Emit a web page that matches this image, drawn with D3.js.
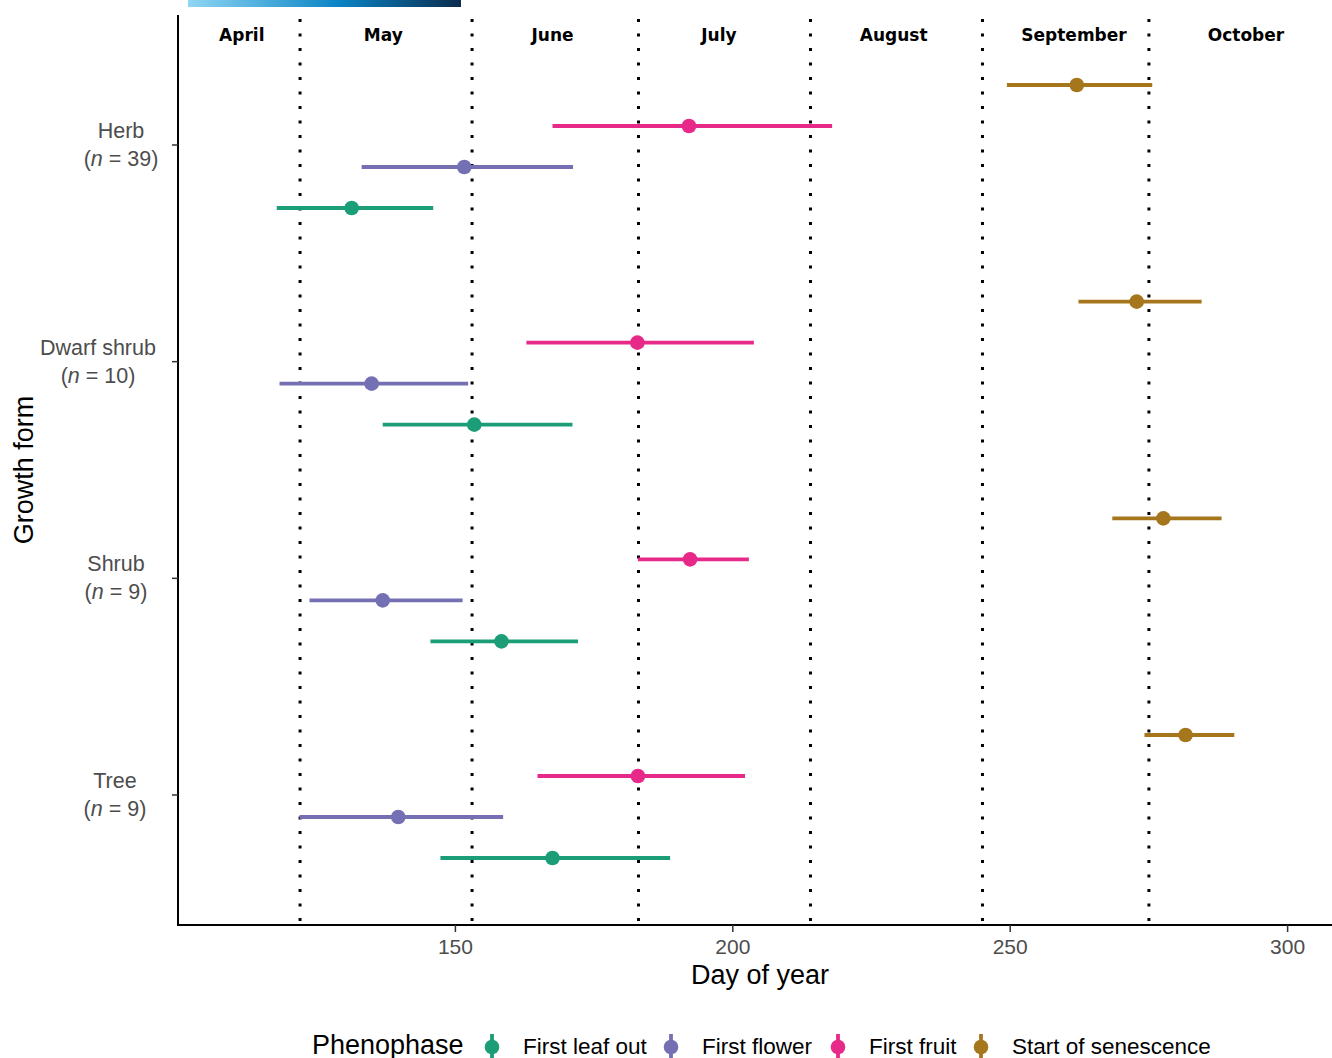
<!DOCTYPE html>
<html lang="en">
<head>
  <meta charset="UTF-8">
  <title>Phenophase by growth form</title>
  <script src="https://d3js.org/d3.v7.min.js"></script>
  <style>
    body { margin: 0; background: #fff; }
    svg { display: block; font-family: "Liberation Sans", Arial, sans-serif; }
  </style>
</head>
<body>
  <svg width="1332" height="1058"></svg>
  <script>
    // growth forms (top to bottom) and sample sizes
    const forms = ["Herb", "Dwarf shrub", "Shrub", "Tree"];
    const sampleSizes = [39, 10, 9, 9];

    // phenophases, top to bottom within a group
    const phases = ["Start of senescence", "First fruit", "First flower", "First leaf out"];
    const legendOrder = ["First leaf out", "First flower", "First fruit", "Start of senescence"];
    const phaseColors = ["#A6761D", "#E7298A", "#7570B3", "#1B9E77"];

    // [low, mean, high] day of year, per form, in phase order above
    const herbValues   = [[249.4, 262.0, 275.6], [167.5, 192.1, 217.9], [133.1, 151.6, 171.2], [117.8, 131.3, 146.0]];
    const dwarfValues  = [[262.3, 272.8, 284.5], [162.8, 182.8, 203.8], [118.3, 134.9, 152.3], [136.9, 153.4, 171.1]];
    const shrubValues  = [[268.4, 277.6, 288.1], [182.9, 192.3, 202.9], [123.7, 136.9, 151.3], [145.5, 158.3, 172.1]];
    const treeValues   = [[274.2, 281.6, 290.4], [164.8, 182.9, 202.2], [121.9, 139.7, 158.6], [147.3, 167.5, 188.7]];
    const formValues = [herbValues, dwarfValues, shrubValues, treeValues];

    // month boundaries (day of year), month names and where their labels sit
    const monthStarts = [122, 153, 183, 214, 245, 275];
    const monthNames = ["April", "May", "June", "July", "August", "September", "October"];
    const monthLabelDays = [111.5, 137, 167.5, 197.5, 229, 261.5, 292.5];
    const xTicks = [150, 200, 250, 300];
    const xDomain = [100, 308];

    const svg = d3.select("svg");
    const mLeft = 178, mRight = 1332, mTop = 15, mBottom = 925;

    const x = d3.scaleLinear().domain(xDomain).range([mLeft, mRight]);
    const y = d3.scalePoint().domain(forms).range([mTop, mBottom]).padding(0.6);
    const off = d3.scalePoint().domain(phases).range([-60, 63]);
    const color = d3.scaleOrdinal().domain(phases).range(phaseColors);

    // gradient strip at the very top
    const grad = svg.append("defs").append("linearGradient").attr("id", "strip");
    grad.append("stop").attr("offset", "0%").attr("stop-color", "#8fd6f4");
    grad.append("stop").attr("offset", "55%").attr("stop-color", "#0a84c4");
    grad.append("stop").attr("offset", "100%").attr("stop-color", "#0b2c4e");
    svg.append("rect").attr("x", 188).attr("y", 0).attr("width", 273).attr("height", 7)
      .attr("fill", "url(#strip)");

    // month dividers
    svg.selectAll(".month-line").data(monthStarts).enter().append("line")
      .attr("x1", d => x(d)).attr("x2", d => x(d))
      .attr("y1", 19).attr("y2", mBottom)
      .attr("stroke", "#000").attr("stroke-width", 3)
      .attr("stroke-dasharray", "3,11.5");

    svg.selectAll(".month-label").data(monthNames).enter().append("text")
      .attr("x", (d, i) => x(monthLabelDays[i]))
      .attr("y", 41)
      .attr("text-anchor", "middle")
      .style("font-family", "'DejaVu Sans', Verdana, sans-serif")
      .style("font-weight", "bold")
      .style("font-size", "17px")
      .text(d => d);

    // intervals and points
    const rows = [];
    forms.forEach((f, i) => phases.forEach((p, j) => {
      const v = formValues[i][j];
      rows.push({ form: f, phase: p, lo: v[0], mid: v[1], hi: v[2] });
    }));

    svg.selectAll(".range").data(rows).enter().append("line")
      .attr("x1", d => x(d.lo)).attr("x2", d => x(d.hi))
      .attr("y1", d => y(d.form) + off(d.phase)).attr("y2", d => y(d.form) + off(d.phase))
      .attr("stroke", d => color(d.phase)).attr("stroke-width", 3.8);

    svg.selectAll(".pt").data(rows).enter().append("circle")
      .attr("cx", d => x(d.mid)).attr("cy", d => y(d.form) + off(d.phase))
      .attr("r", 7.3).attr("fill", d => color(d.phase));

    // axes
    svg.append("line").attr("x1", mLeft).attr("x2", mLeft).attr("y1", mTop).attr("y2", mBottom + 1)
      .attr("stroke", "#000").attr("stroke-width", 2);
    svg.append("line").attr("x1", mLeft - 1).attr("x2", mRight).attr("y1", mBottom).attr("y2", mBottom)
      .attr("stroke", "#000").attr("stroke-width", 2);

    svg.selectAll(".xtick").data(xTicks).enter().append("line")
      .attr("x1", d => x(d)).attr("x2", d => x(d)).attr("y1", mBottom).attr("y2", mBottom + 7)
      .attr("stroke", "#333").attr("stroke-width", 1.5);
    svg.selectAll(".xlab").data(xTicks).enter().append("text")
      .attr("x", d => x(d)).attr("y", mBottom + 29)
      .attr("text-anchor", "middle").attr("fill", "#4d4d4d").style("font-size", "21px")
      .text(d => d);

    svg.selectAll(".ytick").data(forms).enter().append("line")
      .attr("x1", mLeft - 6).attr("x2", mLeft).attr("y1", d => y(d)).attr("y2", d => y(d))
      .attr("stroke", "#333").attr("stroke-width", 1.5);

    // two-line y labels, lines centred on each other
    const labelCentres = [121, 98, 116, 115];
    forms.forEach((f, i) => {
      const g = svg.append("g").attr("fill", "#4d4d4d").style("font-size", "21.5px");
      g.append("text").attr("x", labelCentres[i]).attr("y", y(f) - 7)
        .attr("text-anchor", "middle").text(f);
      const t2 = g.append("text").attr("x", labelCentres[i]).attr("y", y(f) + 21)
        .attr("text-anchor", "middle");
      t2.append("tspan").text("(");
      t2.append("tspan").style("font-style", "italic").text("n");
      t2.append("tspan").text(" = " + sampleSizes[i] + ")");
    });

    svg.append("text").attr("transform", `translate(33,${(mTop + mBottom) / 2}) rotate(-90)`)
      .attr("text-anchor", "middle").style("font-size", "27px").text("Growth form");
    svg.append("text").attr("x", (mLeft + mRight) / 2 + 5).attr("y", 984)
      .attr("text-anchor", "middle").style("font-size", "27px").text("Day of year");

    // legend
    const leg = svg.append("g");
    leg.append("text").attr("x", 312).attr("y", 1054).style("font-size", "27px").text("Phenophase");
    const keyX = [492, 671, 838, 981];
    legendOrder.forEach((p, i) => {
      leg.append("line").attr("x1", keyX[i]).attr("x2", keyX[i]).attr("y1", 1034).attr("y2", 1058)
        .attr("stroke", color(p)).attr("stroke-width", 3.8);
      leg.append("circle").attr("cx", keyX[i]).attr("cy", 1047).attr("r", 7.3).attr("fill", color(p));
      leg.append("text").attr("x", keyX[i] + 31).attr("y", 1054).style("font-size", "22.5px").text(p);
    });
  </script>
</body>
</html>
